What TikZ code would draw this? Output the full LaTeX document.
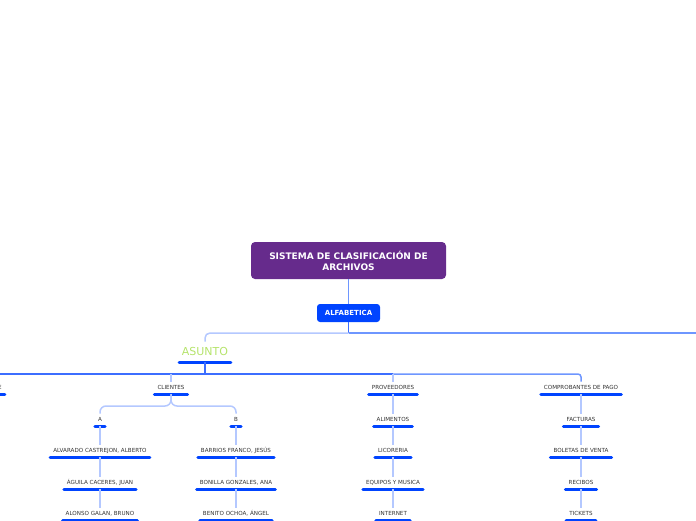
\documentclass[tikz,border=0pt]{standalone}
\usepackage{fontspec}
\setmainfont{DejaVu Sans}
\usetikzlibrary{calc}
\definecolor{titlepurple}{RGB}{102,43,140}
\definecolor{boxblue}{RGB}{0,68,255}
\definecolor{darkconn}{RGB}{60,110,255}
\definecolor{medconn}{RGB}{110,150,255}
\definecolor{lightconn}{RGB}{180,200,255}
\definecolor{txtgray}{RGB}{51,51,51}
\definecolor{asuntogreen}{RGB}{181,227,107}
\tikzset{
  topic/.style={anchor=south, inner xsep=4.5pt, inner ysep=4pt, text height=4pt, text depth=0pt,
    font=\fontsize{5.6}{6.5}\selectfont, text=txtgray,
    append after command={\pgfextra{\draw[bar] (\tikzlastnode.south west) -- (\tikzlastnode.south east);}}},
  bar/.style={draw=boxblue, line width=3pt, line cap=round, shorten <=1.5pt, shorten >=1.5pt},
  conn/.style={draw=lightconn, line width=1.5pt},
  mconn/.style={draw=medconn, line width=1.5pt},
  dconn/.style={draw=darkconn, line width=1.5pt},
}
\begin{document}
\begin{tikzpicture}[x=1pt,y=-1pt]
\useasboundingbox (0,0) rectangle (696,520);
% title
\node[fill=titlepurple, rounded corners=4pt, minimum width=195pt, minimum height=37pt, inner sep=0pt,
  text=white, font=\bfseries\fontsize{9}{11}\selectfont, align=center] (title) at (348.5,260.5)
  {SISTEMA DE CLASIFICACIÓN DE\\ARCHIVOS};
\node[fill=boxblue, rounded corners=3pt, minimum width=63pt, minimum height=18pt, inner sep=0pt,
  text=white, font=\bfseries\fontsize{7}{8}\selectfont] (alfa) at (348.5,313) {ALFABETICA};
\draw[mconn] (title.south) -- (alfa.north);
% ASUNTO
\node[anchor=south, inner xsep=4pt, inner ysep=6pt, text height=8pt, text depth=0pt,
  font=\fontsize{11}{12}\selectfont, text=asuntogreen,
  append after command={\pgfextra{\draw[bar] (\tikzlastnode.south west) -- (\tikzlastnode.south east);}}]
  (asunto) at (205,362) {ASUNTO};
\coordinate (j1) at (348.5,333);
\coordinate (right1) at (700,333);
\draw[dconn] (alfa.south) -- (j1);
\draw[conn, rounded corners=5pt] (j1) -- (205,333) -- (asunto.north);
\draw[mconn] (j1) -- (right1);
% level 2
\node[topic] (e) at (0,394) {E};
\node[topic] (cl) at (171,394) {CLIENTES};
\node[topic] (pr) at (393,394) {PROVEEDORES};
\node[topic] (co) at (581,394) {COMPROBANTES DE PAGO};
\coordinate (j2) at (205,374);
\coordinate (left2) at (-10,374);
\coordinate (j3) at (393,374);
\draw[dconn] (asunto.south) -- (j2);
\draw[dconn] (j2) -- (left2);
\draw[dconn] (j2) -- (j3);
\draw[mconn, rounded corners=3pt] (j3) -- (581,374) -- (co.north);
\draw[conn] (171,374) -- (cl.north);
\draw[conn] (j3) -- (pr.north);
% clientes children
\node[topic] (a) at (100,426) {A};
\node[topic] (b) at (236,426) {B};
\draw[conn, rounded corners=6pt] (cl.south) -- (171,406) -| (a.north);
\draw[conn, rounded corners=6pt] (cl.south) -- (171,406) -| (b.north);
\node[topic] (a1) at (100,457) {ALVARADO CASTREJON, ALBERTO};
\node[topic] (a2) at (100,489) {ÁGUILA CACERES, JUAN};
\node[topic] (a3) at (100,520) {ALONSO GALAN, BRUNO};
\draw[conn] (a.south) -- (a1.north);
\draw[conn] (a1.south) -- (a2.north);
\draw[conn] (a2.south) -- (a3.north);
\node[topic] (b1) at (236,457) {BARRIOS FRANCO, JESÚS};
\node[topic] (b2) at (236,489) {BONILLA GONZALES, ANA};
\node[topic] (b3) at (236,520) {BENITO OCHOA, ÁNGEL};
\draw[conn] (b.south) -- (b1.north);
\draw[conn] (b1.south) -- (b2.north);
\draw[conn] (b2.south) -- (b3.north);
% proveedores
\node[topic] (p1) at (393,426) {ALIMENTOS};
\node[topic] (p2) at (393,457) {LICORERIA};
\node[topic] (p3) at (393,489) {EQUIPOS Y MUSICA};
\node[topic] (p4) at (393,520) {INTERNET};
\draw[conn] (pr.south) -- (p1.north);
\draw[conn] (p1.south) -- (p2.north);
\draw[conn] (p2.south) -- (p3.north);
\draw[conn] (p3.south) -- (p4.north);
% comprobantes
\node[topic] (c1) at (581,426) {FACTURAS};
\node[topic] (c2) at (581,457) {BOLETAS DE VENTA};
\node[topic] (c3) at (581,489) {RECIBOS};
\node[topic] (c4) at (581,520) {TICKETS};
\draw[conn] (co.south) -- (c1.north);
\draw[conn] (c1.south) -- (c2.north);
\draw[conn] (c2.south) -- (c3.north);
\draw[conn] (c3.south) -- (c4.north);
\end{tikzpicture}
\end{document}
